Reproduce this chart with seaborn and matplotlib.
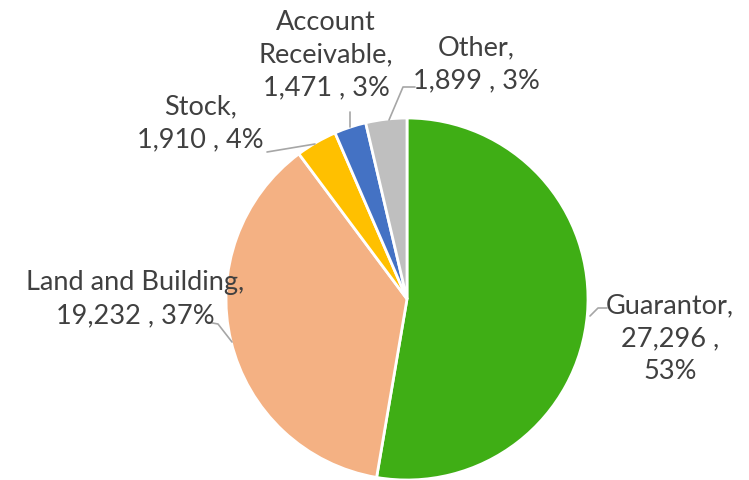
import matplotlib
matplotlib.use("Agg")
import matplotlib.pyplot as plt
import seaborn as sns

sns.set_theme(style="white")
plt.rcParams['font.family'] = ['Lato', 'DejaVu Sans']

categories = ["Guarantor", "Land and Building", "Stock", "Account Receivable", "Other"]
values = [27296, 19232, 1910, 1471, 1899]
value_labels = ["27,296", "19,232", "1,910", "1,471", "1,899"]
pct_labels = ["53%", "37%", "4%", "3%", "3%"]
colors = ["#3FAE15", "#F4B183", "#FFC000", "#4472C4", "#BFBFBF"]

W, H = 749, 481
fig = plt.figure(figsize=(W / 100, H / 100), dpi=100)

cx, cy, r = 407, 300, 181
pax = fig.add_axes([(cx - r) / W, (H - cy - r) / H, 2 * r / W, 2 * r / H])
pax.pie(values, colors=colors, startangle=90, counterclock=False,
        wedgeprops=dict(edgecolor="white", linewidth=2))
pax.set_xlim(-1, 1)
pax.set_ylim(-1, 1)
pax.set_aspect("auto")
pax.axis("off")

ax = fig.add_axes([0, 0, 1, 1])
ax.patch.set_alpha(0)
ax.set_xlim(0, W)
ax.set_ylim(H, 0)
ax.axis("off")

tc = "#404040"
fs = 19.5
ls = 1.4
texts = {
    "Guarantor": (670, 339, f"{categories[0]},\n{value_labels[0]} ,\n{pct_labels[0]}"),
    "Land and Building": (135, 299, f"{categories[1]},\n{value_labels[1]} , {pct_labels[1]}"),
    "Stock": (200, 123, f"{categories[2]},\n{value_labels[2]} , {pct_labels[2]}"),
    "Account Receivable": (326, 55, "Account\nReceivable,\n" + f"{value_labels[3]} , {pct_labels[3]}"),
    "Other": (476, 64, f"{categories[4]},\n{value_labels[4]} , {pct_labels[4]}"),
}
for k, (x, y, t) in texts.items():
    ax.text(x, y, t, ha="center", va="center", fontsize=fs, color=tc, linespacing=ls)

lc = "#A6A6A6"
leaders = [
    [(607, 309), (598, 309), (590, 317)],
    [(207, 323), (218, 325), (232, 343)],
    [(267, 153), (315, 145)],
    [(350, 113), (350, 128)],
    [(415, 88), (403, 88), (389, 121)],
]
for pts in leaders:
    xs, ys = zip(*pts)
    ax.plot(xs, ys, color=lc, lw=1.2)

fig.savefig("out.png", dpi=100)
